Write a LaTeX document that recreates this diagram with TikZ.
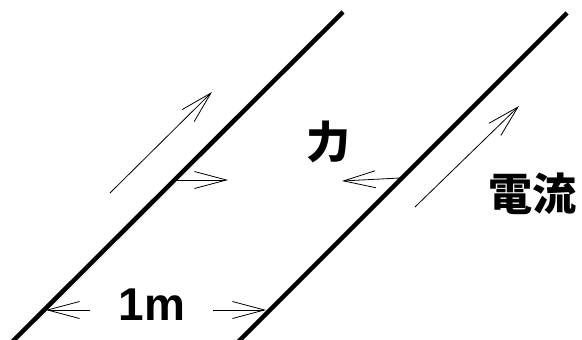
\documentclass[tikz,border=0pt]{standalone}
\usepackage{fontspec}
\setmainfont{Liberation Sans}
\newfontfamily\jpfont{Noto Sans CJK JP}
\usetikzlibrary{arrows.meta}

\begin{document}
\begin{tikzpicture}[x=1pt,y=-1pt,
  wire/.style={line width=4.5pt},
  thinarrow/.style={line width=0.8pt,-{Straight Barb[length=32pt,width=17pt]}},
  label/.style={inner sep=0pt,font=\fontsize{46}{50}\selectfont\bfseries},
  jplabel/.style={inner sep=0pt,font=\fontsize{44}{48}\selectfont\jpfont\bfseries}]
\useasboundingbox (0,0) rectangle (582,340);

% wires
\coordinate (w1a) at (12,342);
\coordinate (w1b) at (343,12);
\coordinate (w2a) at (238,342);
\coordinate (w2b) at (567,13);
\draw[wire] (w1a) -- (w1b);
\draw[wire] (w2a) -- (w2b);

% current
\coordinate (i1a) at (110,193);
\coordinate (i1b) at (212,92);
\coordinate (i2a) at (415,207);
\coordinate (i2b) at (519,106);
\draw[thinarrow] (i1a) -- (i1b);
\draw[thinarrow] (i2a) -- (i2b);

% force
\coordinate (f1a) at (174,180);
\coordinate (f1b) at (228,180);
\coordinate (f2a) at (400,178);
\coordinate (f2b) at (342,181);
\draw[thinarrow] (f1a) -- (f1b);
\draw[thinarrow] (f2a) -- (f2b);

% distance
\coordinate (d1a) at (90,310);
\coordinate (d1b) at (46,310);
\coordinate (d2a) at (213,310);
\coordinate (d2b) at (266,310);
\draw[thinarrow] (d1a) -- (d1b);
\draw[thinarrow] (d2a) -- (d2b);

\node[label] (dist) at (152,305) {1m};
\node[jplabel] (force) at (328,142) {力};
\node[jplabel] (current) at (532,194) {電流};
\end{tikzpicture}
\end{document}
